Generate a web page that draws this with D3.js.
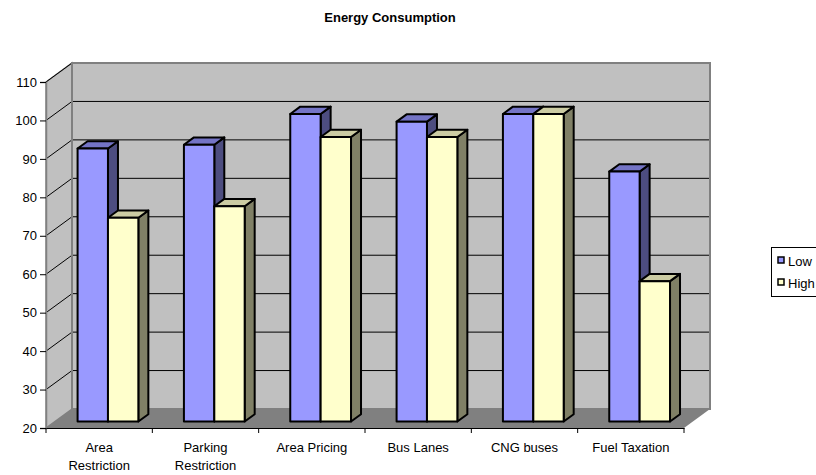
<!DOCTYPE html>
<html>
<head>
<meta charset="utf-8">
<script src="https://cdn.jsdelivr.net/npm/d3@7"></script>
<style>
html,body{margin:0;padding:0;background:#fff;}
svg{display:block;font-family:"Liberation Sans",Arial,sans-serif;}
</style>
</head>
<body>
<svg id="chart" width="816" height="475"></svg>
<script>
const title = "Energy Consumption";
const categories = ["Area Restriction","Parking Restriction","Area Pricing","Bus Lanes","CNG buses","Fuel Taxation"];
const seriesNames = ["Low","High"];
const lowValues = [91, 92, 100, 98, 100, 85];
const highValues = [73, 76, 94, 94, 100, 56.5];
const yTicks = [20,30,40,50,60,70,80,90,100,110];

(function(){
const seriesValues = [lowValues, highValues];
const faceColors = {
  Low:  {front:"#9999FF", top:"#7474C6", side:"#4D4D80"},
  High: {front:"#FFFFCC", top:"#CCCCA3", side:"#808066"}
};

const svg = d3.select("#chart");
const pLeft = 46, pRight = 684, pBottom = 428, pTop = 82;
const DX = 26, DY = -19;          // wall depth
const fx = 8.8, fy = -6.5;        // bar front offset
const bdx = 10, bdy = -7.3;       // bar depth

const y = d3.scaleLinear().domain([20,110]).range([pBottom, pTop]);
const x = d3.scaleBand().domain(categories).range([pLeft, pRight]).paddingInner(0).paddingOuter(0);
const xs = d3.scaleBand().domain(seriesNames).range([0, x.bandwidth()]).paddingInner(0).paddingOuter(0.75);

const poly = pts => pts.map(p => p.join(",")).join(" ");

// Left wall
svg.append("polygon")
  .attr("points", poly([[pLeft,y(110)],[pLeft+DX,y(110)+DY],[pLeft+DX,y(20)+DY],[pLeft,y(20)]]))
  .attr("fill","#C0C0C0").attr("stroke","#808080").attr("stroke-width",1.5);
// Back wall
svg.append("rect")
  .attr("x", pLeft+DX).attr("y", y(110)+DY)
  .attr("width", pRight-pLeft).attr("height", y(20)-y(110))
  .attr("fill","#C0C0C0");

// Gridlines
const grid = svg.append("g");
yTicks.filter(t => t>20 && t<110).forEach(t => {
  grid.append("line").attr("x1", pLeft+DX).attr("x2", pRight+DX)
    .attr("y1", y(t)+DY).attr("y2", y(t)+DY).attr("stroke","#000").attr("stroke-width",1);
});
yTicks.filter(t => t>20).forEach(t => {
  grid.append("line").attr("x1", pLeft).attr("x2", pLeft+DX)
    .attr("y1", y(t)).attr("y2", y(t)+DY).attr("stroke","#000").attr("stroke-width",1);
});
svg.append("rect")
  .attr("x", pLeft+DX).attr("y", y(110)+DY)
  .attr("width", pRight-pLeft).attr("height", y(20)-y(110))
  .attr("fill","none").attr("stroke","#808080").attr("stroke-width",2);
// Floor
svg.append("polygon")
  .attr("points", poly([[pLeft,y(20)],[pRight,y(20)],[pRight+DX,y(20)+DY],[pLeft+DX,y(20)+DY]]))
  .attr("fill","#808080");

// Bars
const bars = svg.append("g");
categories.forEach((c, i) => {
  seriesNames.forEach((s, j) => {
    const v = seriesValues[j][i];
    const x0 = x(c) + xs(s) + fx, w = xs.bandwidth();
    const yt = y(v) + fy, yb = y(20) + fy;
    const col = faceColors[s];
    const g = bars.append("g").attr("stroke","#000").attr("stroke-width",2).attr("stroke-linejoin","round");
    g.append("polygon").attr("points", poly([[x0+w,yt],[x0+w+bdx,yt+bdy],[x0+w+bdx,yb+bdy],[x0+w,yb]])).attr("fill",col.side);
    g.append("polygon").attr("points", poly([[x0,yt],[x0+bdx,yt+bdy],[x0+w+bdx,yt+bdy],[x0+w,yt]])).attr("fill",col.top);
    g.append("rect").attr("x",x0).attr("y",yt).attr("width",w).attr("height",yb-yt).attr("fill",col.front);
  });
});

// Y axis
const yAxis = d3.axisLeft(y).tickValues(yTicks).tickSize(6).tickPadding(3).tickFormat(d3.format("d"));
const ya = svg.append("g").attr("transform",`translate(${pLeft},0)`).call(yAxis);
ya.select(".domain").attr("stroke","#808080").attr("stroke-width",1.5);
ya.selectAll(".tick line").attr("stroke","#000");
ya.selectAll(".tick text").attr("font-size",13).attr("font-family","Liberation Sans, Arial, sans-serif").attr("fill","#000");

// X axis
const xAxis = d3.axisBottom(x).tickSize(0).tickFormat("");
const xa = svg.append("g").attr("transform",`translate(0,${pBottom})`).call(xAxis);
xa.select(".domain").attr("stroke","#000").attr("stroke-width",1);
const bounds = [...categories.map(c => x(c)), pRight];
bounds.forEach(b => {
  svg.append("line").attr("x1",b).attr("x2",b).attr("y1",pBottom).attr("y2",pBottom+5).attr("stroke","#000");
});
const xl = svg.append("g").attr("font-size",13).attr("text-anchor","middle").attr("fill","#000");
categories.forEach(c => {
  const cx = x(c) + x.bandwidth()/2;
  const t = xl.append("text").attr("x",cx).attr("y",452);
  t.text(c);
  if (t.node().getComputedTextLength() > 85) {
    t.text(null);
    c.split(" ").forEach((w, k) => {
      t.append("tspan").attr("x",cx).attr("y",452 + k*18).text(w);
    });
  }
});

// Title
svg.append("text").attr("x",390).attr("y",22).attr("text-anchor","middle")
  .attr("font-size",13).attr("font-weight","bold").text(title);

// Legend
const lg = svg.append("g");
lg.append("rect").attr("x",771.5).attr("y",247.5).attr("width",60).attr("height",49)
  .attr("fill","#fff").attr("stroke","#000").attr("stroke-width",1);
seriesNames.forEach((s, k) => {
  const yy = 257 + k*22;
  lg.append("rect").attr("x",778).attr("y",yy).attr("width",6).attr("height",6)
    .attr("fill",faceColors[s].front).attr("stroke","#000").attr("stroke-width",1.5);
  lg.append("text").attr("x",788).attr("y",yy+9).attr("font-size",13).text(s);
});
})();
</script>
</body>
</html>
